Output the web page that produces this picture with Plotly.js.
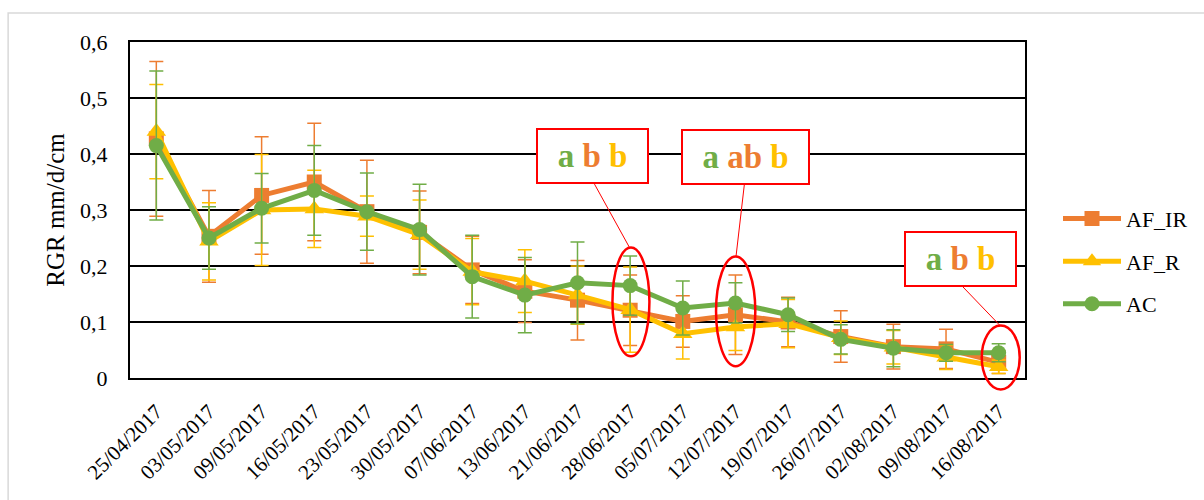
<!DOCTYPE html>
<html>
<head>
<meta charset="utf-8">
<script src="https://cdn.plot.ly/plotly-3.0.1.min.js"></script>
<style>
  html, body { margin: 0; padding: 0; background: #ffffff; }
  #chart { width: 1204px; height: 500px; }
</style>
</head>
<body>
<div id="chart"></div>
<script>
// ---- data ----
var dates = ['25/04/2017','03/05/2017','09/05/2017','16/05/2017','23/05/2017','30/05/2017',
             '07/06/2017','13/06/2017','21/06/2017','28/06/2017','05/07/2017','12/07/2017',
             '19/07/2017','26/07/2017','02/08/2017','09/08/2017','16/08/2017'];

var afIR    = [0.427, 0.253, 0.326, 0.350, 0.297, 0.260, 0.193, 0.155, 0.139, 0.121, 0.101, 0.113, 0.100, 0.074, 0.056, 0.052, 0.028];
var afIRerr = [0.138, 0.082, 0.105, 0.105, 0.092, 0.074, 0.060, 0.056, 0.071, 0.063, 0.046, 0.071, 0.044, 0.046, 0.040, 0.035, 0.020];

var afR     = [0.440, 0.244, 0.300, 0.302, 0.289, 0.256, 0.190, 0.173, 0.148, 0.122, 0.079, 0.091, 0.097, 0.072, 0.055, 0.037, 0.020];
var afRerr  = [0.084, 0.069, 0.099, 0.069, 0.036, 0.062, 0.059, 0.056, 0.052, 0.076, 0.045, 0.042, 0.043, 0.030, 0.030, 0.022, 0.012];

var ac      = [0.415, 0.250, 0.303, 0.335, 0.297, 0.265, 0.181, 0.148, 0.170, 0.165, 0.125, 0.134, 0.113, 0.069, 0.053, 0.045, 0.045];
var acErr   = [0.133, 0.056, 0.062, 0.080, 0.069, 0.081, 0.074, 0.067, 0.073, 0.053, 0.048, 0.036, 0.030, 0.026, 0.033, 0.015, 0.016];

var yTickVals  = [0, 0.1, 0.2, 0.3, 0.4, 0.5, 0.6];
var yTickText  = ['0', '0,1', '0,2', '0,3', '0,4', '0,5', '0,6'];

var seriesNames = ['AF_IR', 'AF_R', 'AC'];
var letterGroups = [['a', 'b', 'b'], ['a', 'ab', 'b'], ['a', 'b', 'b']];

// ---- styling ----
var ORANGE = '#ED7D31', YELLOW = '#FFC000', GREEN = '#70AD47', RED = '#FF0000';
var FONT = '"Liberation Serif", "Times New Roman", serif';

function makeTrace(name, y, err, color, symbol, size, group) {
  return {
    type: 'scatter', mode: 'lines+markers', name: name,
    x: dates, y: y, legendgroup: group,
    line: { color: color, width: 5 },
    marker: { color: color, symbol: symbol, size: size },
    error_y: { type: 'data', array: err, visible: true, color: color, thickness: 1.5, width: 7 }
  };
}

var traces = [
  makeTrace(seriesNames[0], afIR, afIRerr, ORANGE, 'square', 15, 'g1'),
  makeTrace(seriesNames[1], afR, afRerr, YELLOW, 'triangle-up', 17, 'g2'),
  makeTrace(seriesNames[2], ac, acErr, GREEN, 'circle', 15, 'g3')
];

function letters(g) {
  var cols = [GREEN, ORANGE, YELLOW];
  return '<b>' + g.map(function (t, i) {
    return '<span style="color:' + cols[i] + '">' + t + '</span>';
  }).join(' ') + '</b>';
}

// paper-coordinate helpers (plot area 130..1026 x 42..378.5 px)
function px(v) { return (v - 130) / 896; }
function py(v) { return (378.5 - v) / 336.5; }

var boxes = [
  { cx: 593.5, cy: 156, w: 109, h: 52, g: letterGroups[0] },
  { cx: 745.8, cy: 156.8, w: 125, h: 52, g: letterGroups[1] },
  { cx: 961.7, cy: 259.2, w: 109, h: 52, g: letterGroups[2] }
];

var annotations = boxes.map(function (b) {
  return {
    xref: 'paper', yref: 'paper', x: px(b.cx), y: py(b.cy),
    xanchor: 'center', yanchor: 'middle', showarrow: false,
    text: letters(b.g), font: { family: FONT, size: 33 },
    width: b.w, height: b.h, align: 'center', valign: 'middle',
    bgcolor: '#ffffff', bordercolor: RED, borderwidth: 2, borderpad: 0
  };
});

var ellipses = [
  [613, 247.7, 650, 356.7],
  [716.7, 256.7, 756, 366.7],
  [982.7, 326, 1020.7, 390]
];
var connectors = [
  [595, 184.3, 630, 247.7],
  [745, 185, 736.7, 256.7],
  [963.3, 286.7, 1001.7, 326.7]
];

var shapes = [
  { type: 'rect', xref: 'paper', yref: 'paper', layer: 'below',
    x0: px(8), y0: py(520), x1: px(1230), y1: py(13),
    line: { color: '#d9d9d9', width: 1.5 }, fillcolor: 'rgba(0,0,0,0)' }
];
connectors.forEach(function (c) {
  shapes.push({ type: 'line', xref: 'paper', yref: 'paper',
    x0: px(c[0]), y0: py(c[1]), x1: px(c[2]), y1: py(c[3]),
    line: { color: RED, width: 1 } });
});
ellipses.forEach(function (e) {
  shapes.push({ type: 'circle', xref: 'paper', yref: 'paper',
    x0: px(e[0]), y0: py(e[3]), x1: px(e[2]), y1: py(e[1]),
    line: { color: RED, width: 2.5 } });
});

var layout = {
  width: 1204, height: 500,
  margin: { l: 130, r: 178, t: 42, b: 121.5 },
  paper_bgcolor: '#ffffff', plot_bgcolor: '#ffffff',
  font: { family: FONT, color: '#000000', size: 22 },
  showlegend: true,
  legend: {
    x: px(1058), y: py(198), xanchor: 'left', yanchor: 'top',
    font: { family: FONT, size: 22, color: '#000' },
    traceorder: 'grouped', tracegroupgap: 11, itemwidth: 58,
    bgcolor: 'rgba(0,0,0,0)'
  },
  xaxis: {
    type: 'category', range: [-0.5, 16.5],
    showgrid: false, zeroline: false,
    showline: true, linecolor: '#000', linewidth: 2, mirror: true,
    ticks: '', tickangle: -45, tickfont: { family: FONT, size: 21 },
    ticklabelstandoff: 11
  },
  yaxis: {
    range: [0, 0.6], tickvals: yTickVals, ticktext: yTickText,
    showgrid: true, gridcolor: '#000', gridwidth: 1.3,
    zeroline: false, showline: true, linecolor: '#000', linewidth: 2, mirror: true,
    ticks: '', tickfont: { family: FONT, size: 22 }, ticklabelstandoff: 16,
    title: { text: 'RGR mm/d/cm', font: { family: FONT, size: 25 }, standoff: 8 }
  },
  annotations: annotations,
  shapes: shapes
};

Plotly.newPlot('chart', traces, layout, { displayModeBar: false, staticPlot: true });
</script>
</body>
</html>
